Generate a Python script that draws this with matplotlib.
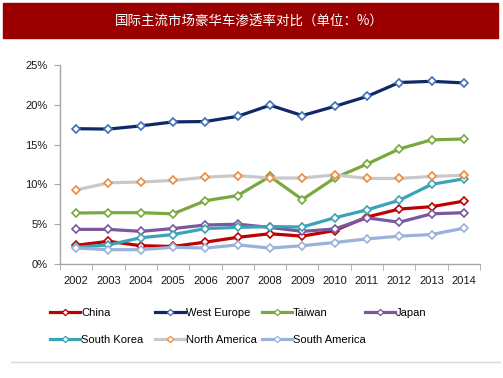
import matplotlib
matplotlib.use("Agg")
import matplotlib.pyplot as plt
from matplotlib.lines import Line2D
from matplotlib.patches import Rectangle
from matplotlib.ticker import FixedLocator, FuncFormatter

plt.rcParams["font.family"] = ["Liberation Sans", "DejaVu Sans"]

# data (% share)
years = [str(y) for y in range(2002, 2015)]
china = [2.35, 2.85, 2.3, 2.2, 2.75, 3.35, 3.8, 3.5, 4.2, 5.9, 6.9, 7.2, 7.9]
west_europe = [17.0, 16.95, 17.35, 17.85, 17.9, 18.55, 19.95, 18.65, 19.8, 21.05, 22.8, 22.95, 22.75]
taiwan = [6.4, 6.45, 6.45, 6.3, 7.95, 8.6, 11.0, 8.1, 10.8, 12.55, 14.45, 15.6, 15.7]
japan = [4.35, 4.35, 4.1, 4.45, 4.9, 5.0, 4.6, 4.1, 4.4, 5.8, 5.25, 6.3, 6.45]
south_korea = [2.1, 2.4, 3.3, 3.7, 4.45, 4.6, 4.7, 4.65, 5.8, 6.8, 8.0, 10.0, 10.7]
north_america = [9.3, 10.2, 10.3, 10.5, 10.9, 11.1, 10.8, 10.8, 11.2, 10.75, 10.75, 11.0, 11.15]
south_america = [2.0, 1.8, 1.8, 2.1, 2.0, 2.4, 2.0, 2.3, 2.7, 3.15, 3.5, 3.7, 4.5]

title = "国际主流市场豪华车渗透率对比（单位：%）"
y_ticks = [0, 5, 10, 15, 20, 25]

# name, values, line colour, marker edge colour
series = [
    ("China", china, "#C00000", "#C00000"),
    ("West Europe", west_europe, "#0F2868", "#3F6FB8"),
    ("Taiwan", taiwan, "#79A83E", "#79A83E"),
    ("Japan", japan, "#7A589E", "#7A589E"),
    ("South Korea", south_korea, "#3BA3B7", "#3BA3B7"),
    ("North America", north_america, "#C9C9C9", "#EE8A3E"),
    ("South America", south_america, "#9AB1DA", "#9AB1DA"),
]

W, H = 503, 378
fig = plt.figure(figsize=(W / 100, H / 100), dpi=100)

# title banner
fig.patches.append(Rectangle((3 / W, 1 - 37.5 / H), 495 / W, 35 / H,
                             transform=fig.transFigure, color="#9B0000", zorder=0))
fig.text(249 / W, 1 - 21 / H, title, color="white", fontsize=9.7,
         family=["Noto Sans CJK SC", "DejaVu Sans"], ha="center", va="center")

# bottom separator
fig.add_artist(Line2D([11 / W, 500 / W], [1 - 362 / H] * 2, color="#D9D9D9", lw=1,
                      transform=fig.transFigure))

ax = fig.add_axes([60 / W, 114 / H, 420 / W, 199 / H])
x = list(range(len(years)))
handles = []
for name, vals, col, mcol in series:
    ax.plot(x, vals, color=col, lw=2.3, marker="D", ms=4.2, mfc="white",
            mec=mcol, mew=1.2, solid_capstyle="round", solid_joinstyle="round")
    handles.append(Line2D([], [], color=col, lw=2.3, marker="D", ms=3.2,
                          mfc="white", mec=mcol, mew=0.9, label=name))

ax.set_xlim(-0.5, len(years) - 0.5)
ax.set_ylim(0, 25)
ax.set_xticks(x)
ax.set_xticklabels(years)
ax.xaxis.set_minor_locator(FixedLocator([i - 0.5 for i in range(len(years) + 1)]))
ax.tick_params(axis="x", which="major", length=0, pad=9, labelsize=8, labelcolor="#1A1A1A")
ax.tick_params(axis="x", which="minor", length=4, color="#A6A6A6", direction="out")
ax.set_yticks(y_ticks)
ax.yaxis.set_major_formatter(FuncFormatter(lambda v, p: f"{v:.0f}%"))
ax.tick_params(axis="y", length=4, color="#A6A6A6", pad=5, labelsize=8, labelcolor="#1A1A1A")
for s in ("top", "right"):
    ax.spines[s].set_visible(False)
for s in ("left", "bottom"):
    ax.spines[s].set_color("#A6A6A6")
    ax.spines[s].set_linewidth(1)

# legend laid out on a fixed grid like the source
col_x = [50, 155, 262, 365]
row_y = [313, 340]
for i, h in enumerate(handles):
    r, c = divmod(i, 4)
    fig.legend(handles=[h], loc="center left",
               bbox_to_anchor=(col_x[c] / W, 1 - row_y[r] / H),
               frameon=False, fontsize=8, handlelength=2.7, handletextpad=0.1,
               borderpad=0, borderaxespad=0)

fig.savefig("out.png", dpi=100)
